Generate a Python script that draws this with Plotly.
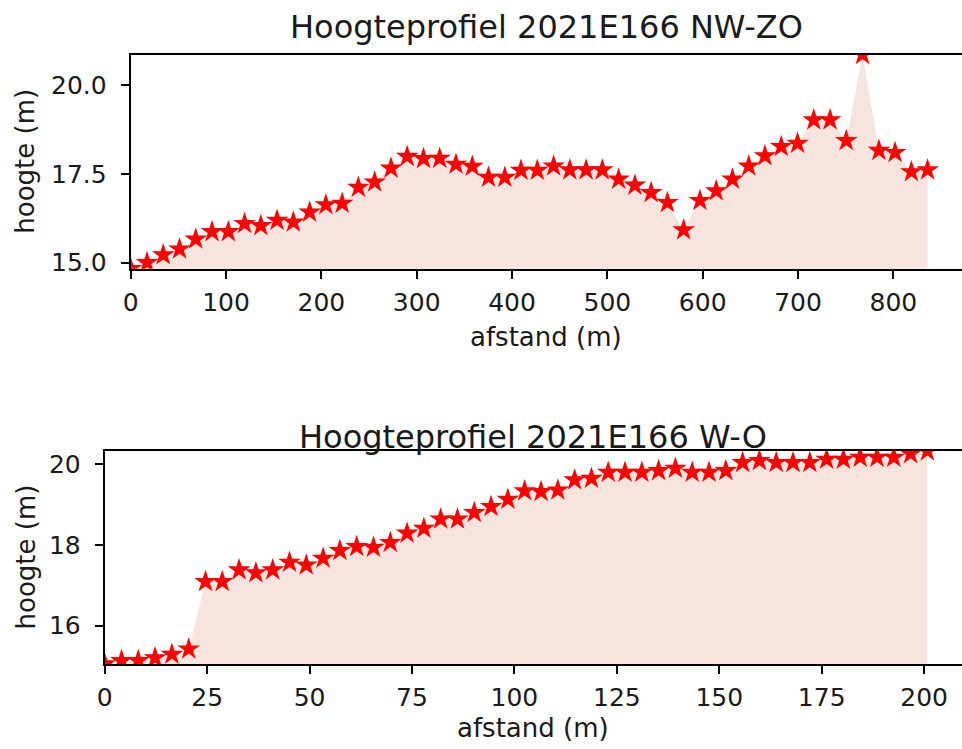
import plotly.graph_objects as go

# ---- Data: Hoogteprofiel NW-ZO ----
nwzo_afstand = [0.0, 17.1, 34.1, 51.2, 68.2, 85.3, 102.4, 119.4, 136.5, 153.5,
                170.6, 187.7, 204.7, 221.8, 238.8, 255.9, 273.0, 290.0, 307.1, 324.1,
                341.2, 358.3, 375.3, 392.4, 409.4, 426.5, 443.6, 460.6, 477.7, 494.7,
                511.8, 528.9, 545.9, 563.0, 580.0, 597.1, 614.2, 631.2, 648.3, 665.3,
                682.4, 699.5, 716.5, 733.6, 750.6, 767.7, 784.8, 801.8, 818.9, 835.9]
nwzo_hoogte = [14.83, 15.00, 15.22, 15.38, 15.66, 15.87, 15.87, 16.10, 16.04, 16.19,
               16.14, 16.42, 16.63, 16.67, 17.12, 17.27, 17.66, 17.99, 17.93, 17.94,
               17.77, 17.71, 17.40, 17.40, 17.60, 17.60, 17.72, 17.61, 17.61, 17.61,
               17.35, 17.18, 16.97, 16.69, 15.92, 16.75, 17.02, 17.35, 17.72, 18.01,
               18.27, 18.36, 19.02, 19.02, 18.44, 20.86, 18.16, 18.10, 17.56, 17.61]

# ---- Data: Hoogteprofiel W-O ----
wo_afstand = [0.0, 4.1, 8.2, 12.3, 16.4, 20.5, 24.6, 28.7, 32.8, 36.9,
              41.0, 45.1, 49.2, 53.3, 57.4, 61.5, 65.6, 69.7, 73.8, 77.9,
              82.0, 86.1, 90.2, 94.3, 98.4, 102.5, 106.5, 110.6, 114.7, 118.8,
              122.9, 127.0, 131.1, 135.2, 139.3, 143.4, 147.5, 151.6, 155.7, 159.8,
              163.9, 168.0, 172.1, 176.2, 180.3, 184.4, 188.5, 192.6, 196.7, 200.8]
wo_hoogte = [15.05, 15.13, 15.13, 15.20, 15.29, 15.42, 17.09, 17.09, 17.38, 17.31,
             17.38, 17.57, 17.50, 17.67, 17.86, 17.96, 17.94, 18.06, 18.29, 18.41,
             18.64, 18.64, 18.80, 18.95, 19.13, 19.34, 19.32, 19.36, 19.61, 19.65,
             19.80, 19.80, 19.80, 19.84, 19.90, 19.80, 19.80, 19.84, 20.04, 20.09,
             20.04, 20.04, 20.04, 20.12, 20.12, 20.17, 20.17, 20.17, 20.26, 20.33]

titles = ["Hoogteprofiel 2021E166 NW-ZO", "Hoogteprofiel 2021E166 W-O"]
xlabel = "afstand (m)"
ylabel = "hoogte (m)"
nwzo_xticks = [0, 100, 200, 300, 400, 500, 600, 700, 800]
nwzo_yticks = [15.0, 17.5, 20.0]
wo_xticks = [0, 25, 50, 75, 100, 125, 150, 175, 200]
wo_yticks = [16, 18, 20]

W, H = 962, 749
FONT = "DejaVu Sans"
FILL = "#f6e5df"

def px_x(p):
    return p / W

def px_y(p):
    return 1 - p / H

fig = go.Figure()

for x, y, xa, ya in [(nwzo_afstand, nwzo_hoogte, "x", "y"),
                     (wo_afstand, wo_hoogte, "x2", "y2")]:
    fig.add_trace(go.Scatter(x=x, y=y, mode="lines", fill="tozeroy",
                             fillcolor=FILL, line=dict(width=0, color=FILL),
                             xaxis=xa, yaxis=ya, showlegend=False, hoverinfo="skip"))
    fig.add_trace(go.Scatter(x=x, y=y, mode="markers",
                             marker=dict(symbol="star", size=17, color="red",
                                         line=dict(width=0)),
                             xaxis=xa, yaxis=ya, showlegend=False))

axis_common = dict(showgrid=False, zeroline=False, showline=True, linecolor="black",
                   linewidth=2, ticks="outside", ticklen=8, tickwidth=2,
                   tickcolor="black", automargin=False,
                   tickfont=dict(family=FONT, size=25, color="#1a1a1a"))

# top axes: pixel box x 130.7..962, y 54.7..268.7
fig.update_layout(
    xaxis=dict(domain=[px_x(130.7), 1.0], range=[0, 872.0], anchor="y",
               tickvals=nwzo_xticks, mirror=True, ticklabelstandoff=2, **axis_common),
    yaxis=dict(domain=[px_y(268.7), px_y(54.7)], range=[14.83, 20.86], anchor="x",
               tickvals=nwzo_yticks, tickformat=".1f", ticklabelstandoff=9,
               **axis_common),
    xaxis2=dict(domain=[px_x(104.7), 1.0], range=[0, 209.25], anchor="y2",
                tickvals=wo_xticks, mirror=True, ticklabelstandoff=2, **axis_common),
    yaxis2=dict(domain=[px_y(664), px_y(451)], range=[15.05, 20.33], anchor="x2",
                tickvals=wo_yticks, ticklabelstandoff=9, **axis_common),
)

ann = []
# titles
ann.append(dict(text=titles[0], x=px_x((130.7 + 962) / 2), y=px_y(27),
                xref="paper", yref="paper", xanchor="center", yanchor="middle",
                showarrow=False, font=dict(family=FONT, size=32, color="#1a1a1a")))
ann.append(dict(text=titles[1], x=px_x((104.7 + 962) / 2), y=px_y(437),
                xref="paper", yref="paper", xanchor="center", yanchor="middle",
                showarrow=False, font=dict(family=FONT, size=32, color="#1a1a1a")))
# x labels
ann.append(dict(text=xlabel, x=px_x((130.7 + 962) / 2), y=px_y(337),
                xref="paper", yref="paper", xanchor="center", yanchor="middle",
                showarrow=False, font=dict(family=FONT, size=26, color="#1a1a1a")))
ann.append(dict(text=xlabel, x=px_x((104.7 + 962) / 2), y=px_y(728),
                xref="paper", yref="paper", xanchor="center", yanchor="middle",
                showarrow=False, font=dict(family=FONT, size=26, color="#1a1a1a")))
# y labels
ann.append(dict(text=ylabel, x=px_x(25), y=px_y(161.7), textangle=-90,
                xref="paper", yref="paper", xanchor="center", yanchor="middle",
                showarrow=False, font=dict(family=FONT, size=26, color="#1a1a1a")))
ann.append(dict(text=ylabel, x=px_x(25), y=px_y(557.5), textangle=-90,
                xref="paper", yref="paper", xanchor="center", yanchor="middle",
                showarrow=False, font=dict(family=FONT, size=26, color="#1a1a1a")))

fig.update_layout(
    width=W, height=H,
    margin=dict(l=0, r=0, t=0, b=0, pad=0, autoexpand=False),
    paper_bgcolor="white", plot_bgcolor="white",
    annotations=ann,
    font=dict(family=FONT),
)

fig.write_html(
    "out.html",
    config={"displayModeBar": False},
    post_script="document.body.style.margin='0';document.body.style.padding='0';"
                "document.body.style.overflow='hidden';"
                "document.documentElement.style.overflow='hidden';",
)
